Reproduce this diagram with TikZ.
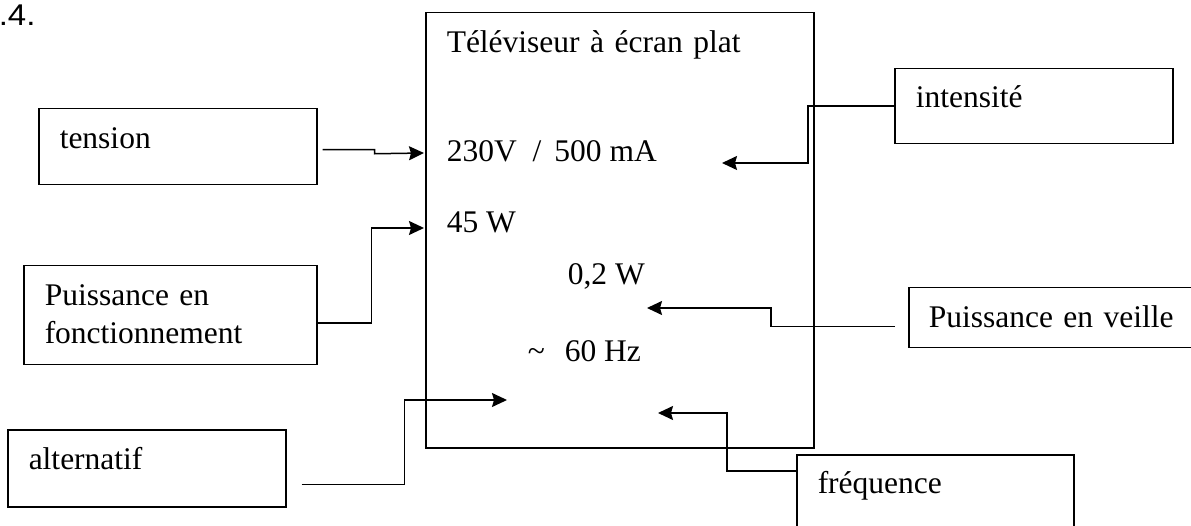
\documentclass[tikz,border=0pt]{standalone}
\usepackage{fontspec}
\setmainfont{Liberation Serif}
\newfontfamily\numfont{Liberation Sans}
\usetikzlibrary{arrows.meta}

\begin{document}
\begin{tikzpicture}[x=1pt,y=-1pt,line width=1.5pt,
   font=\fontsize{31.5}{38}\selectfont,
   lab/.style={draw,anchor=north west,inner ysep=0pt,inner xsep=21pt,align=left},
   val/.style={anchor=base west,inner sep=0pt},
   conn/.style={-{Stealth[length=15pt,width=14pt,inset=2pt]}}]
  \clip (0,0) rectangle (1191,526);
  \node[val] (num) at (-2,26) {\numfont\fontsize{30}{36}\selectfont\scalebox{1.1}[1]{.4.}};
  % main box
  \node[lab,text width=346pt,text height=40pt,text depth=395pt] (tv) at (425,12) {Téléviseur à écran plat};
  \node[val] (v230) at (446,162) {230V\hspace{16pt}/\hspace{13pt}500 mA};
  \node[val] (v45) at (446,233) {45 W};
  \node[val] (veil) at (567,285) {0,2 W};
  \node[val] (vhz) at (527,362) {\textasciitilde\hspace{20pt}60 Hz};
  % labels
  \node[lab,text width=236pt,text height=40pt,text depth=36pt] (tension) at (38,108) {tension};
  \node[lab,text width=251pt,text height=40pt,text depth=59pt] (fonct) at (23,265) {Puissance en\\fonctionnement};
  \node[lab,text width=236pt,text height=40pt,text depth=37pt] (alt) at (7,429) {alternatif};
  \node[lab,text width=236pt,text height=39pt,text depth=36pt] (int) at (894,68) {intensité};
  \node[lab,inner xsep=20pt,text width=260pt,text height=40pt,text depth=20pt] (veille) at (908,287) {Puissance en veille};
  \node[lab,text width=235pt,text height=39pt,text depth=100pt] (freq) at (796,454) {fréquence};
  % arrow tips
  \coordinate (t230) at (424,153);
  \coordinate (t45) at (424,228);
  \coordinate (tac) at (507,400);
  \coordinate (tint) at (722,163);
  \coordinate (tveil) at (647,308);
  \coordinate (tfreq) at (658,413);
  \draw[conn] ([xshift=5pt,yshift=-3pt]tension.east) -| ++(52,4) -- (t230);
  \draw[conn] ([yshift=-8pt]fonct.east) -- ++(54,0) |- (t45);
  \draw[conn] ([xshift=15pt,yshift=-16pt]alt.east) -- ++(103,0) |- (tac);
  \draw[conn] (int.west) -- ++(-86,0) |- (tint);
  \draw[conn] ([xshift=-13pt,yshift=-9pt]veille.west) -- ++(-124,0) |- (tveil);
  \draw[conn] ([yshift=-17pt]freq.north west) -- ++(-69,0) |- (tfreq);
\end{tikzpicture}
\end{document}
